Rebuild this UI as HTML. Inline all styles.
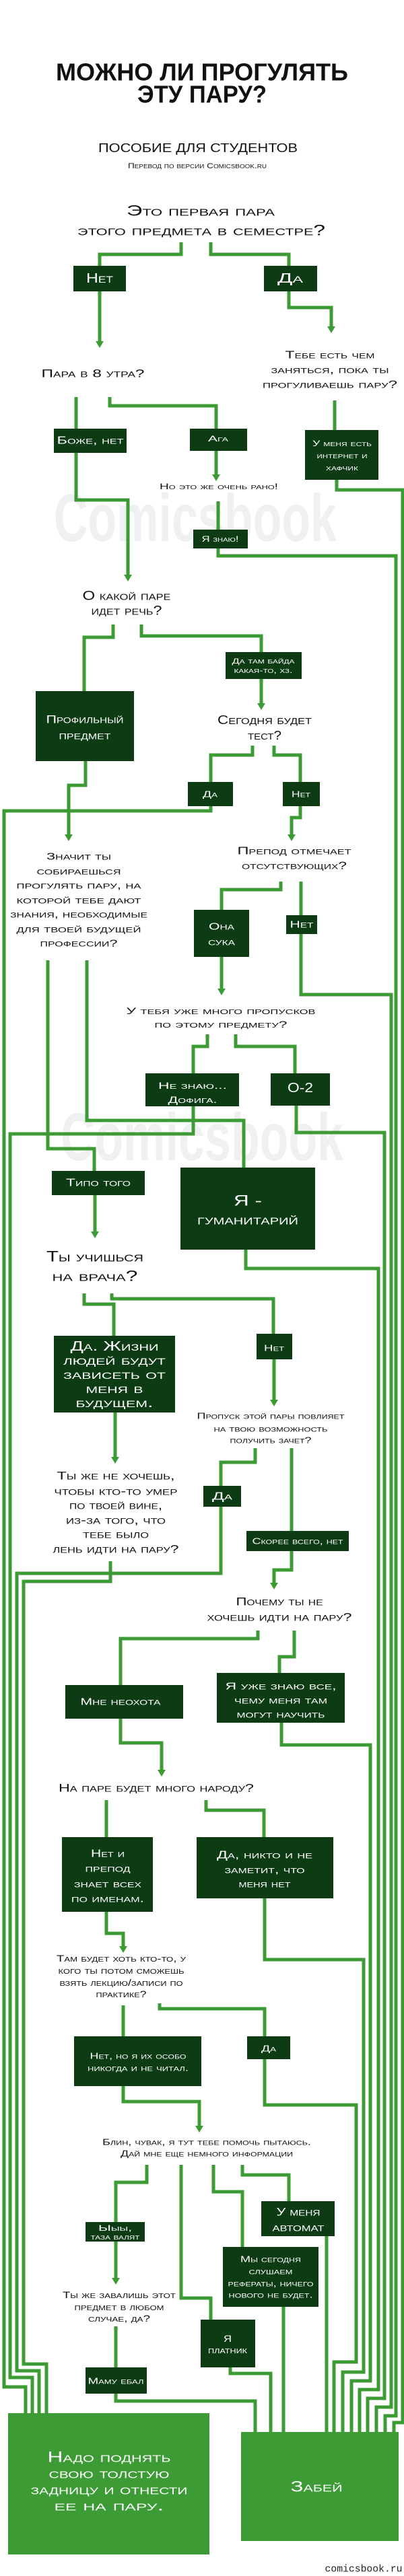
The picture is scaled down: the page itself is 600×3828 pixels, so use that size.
<!DOCTYPE html>
<html><head><meta charset="utf-8"><style>
html,body{margin:0;padding:0;background:#fff;}
svg{display:block;}
text{font-family:"Liberation Sans",sans-serif;font-variant:small-caps;text-anchor:middle;dominant-baseline:central;fill:#111;}
.w{fill:#fff;}
.ln{fill:none;stroke:#3d9b35;stroke-width:5;stroke-linejoin:miter;}
.b{fill:#0c3b14;}
.g{fill:#3d9b35;}
.a{fill:#3d9b35;}
.wm{fill:#f0f0f0;font-variant:normal;font-weight:bold;}
</style></head><body>
<svg width="600" height="3828" viewBox="0 0 600 3828" xmlns="http://www.w3.org/2000/svg">
<!-- watermarks -->
<text class="wm" x="290" y="770" font-size="100" textLength="420" lengthAdjust="spacingAndGlyphs">Comicsbook</text>
<text class="wm" x="300" y="1690" font-size="100" textLength="420" lengthAdjust="spacingAndGlyphs">Comicsbook</text>

<!-- title -->
<text x="300" y="107" font-size="36" font-weight="bold" textLength="434" lengthAdjust="spacingAndGlyphs">МОЖНО ЛИ ПРОГУЛЯТЬ</text>
<text x="300" y="140" font-size="36" font-weight="bold" textLength="192" lengthAdjust="spacingAndGlyphs">ЭТУ ПАРУ?</text>
<text x="294" y="220" font-size="18" textLength="296" lengthAdjust="spacingAndGlyphs">ПОСОБИЕ ДЛЯ СТУДЕНТОВ</text>
<text x="293" y="247" font-size="11" textLength="206" lengthAdjust="spacingAndGlyphs">Перевод по версии Comicsbook.ru</text>
<text x="298" y="313" font-size="22" textLength="220" lengthAdjust="spacingAndGlyphs">Это первая пара</text>
<text x="299" y="342" font-size="22" textLength="368" lengthAdjust="spacingAndGlyphs">этого предмета в семестре?</text>

<!-- lines -->
<g class="ln">
<polyline points="269,360 269,378 148,378 148,395"/>
<polyline points="313,360 313,378 429,378 429,395"/>
<polyline points="148,433 148,510"/>
<polyline points="429,433 429,457 492,457 492,488"/>
<polyline points="113,590 113,637"/>
<polyline points="163,590 163,603 321,603 321,637"/>
<polyline points="497,595 497,639"/>
<polyline points="113,673 113,743 190,743 190,857"/>
<polyline points="321,670 321,708"/>
<polyline points="324,745 324,787"/>
<polyline points="500,713 500,728 598,728 598,3600 585,3600 585,3614"/>
<polyline points="324,815 324,826 588,826 588,3590 572,3590 572,3614"/>
<polyline points="168,928 168,947 125,947 125,1027"/>
<polyline points="210,928 210,945 388,945 388,969"/>
<polyline points="388,1009 388,1048"/>
<polyline points="127,1131 127,1167 102,1167 102,1243"/>
<polyline points="375,1108 375,1122 313,1122 313,1162"/>
<polyline points="407,1108 407,1122 446,1122 446,1162"/>
<polyline points="313,1198 313,1205 6,1205 6,3547 38,3547 38,3586"/>
<polyline points="446,1198 446,1215 433,1215 433,1243"/>
<polyline points="417,1310 417,1322 329,1322 329,1352"/>
<polyline points="447,1310 447,1478 581,1478 581,3577 559,3577 559,3614"/>
<polyline points="329,1422 329,1472"/>
<polyline points="308,1537 308,1555 287,1555 287,1595"/>
<polyline points="350,1537 350,1555 438,1555 438,1595"/>
<polyline points="71,1427 71,1707 140,1707 140,1740"/>
<polyline points="129,1427 129,1665 362,1665 362,1735"/>
<polyline points="287,1644 287,1685 15,1685 15,3533 48,3533 48,3586"/>
<polyline points="440,1643 440,1683 571,1683 571,3564 546,3564 546,3614"/>
<polyline points="365,1857 365,1885 562,1885 562,3551 534,3551 534,3614"/>
<polyline points="141,1776 141,1833"/>
<polyline points="125,1922 125,1938 169,1938 169,1985"/>
<polyline points="166,1922 166,1930 406,1930 406,1982"/>
<polyline points="407,2020 407,2083"/>
<polyline points="171,2099 171,2168"/>
<polyline points="379,2152 379,2173 328,2173 328,2338 25,2338 25,3523 58,3523 58,3586"/>
<polyline points="433,2152 433,2333 407,2333 407,2355"/>
<polyline points="164,2320 164,2350 35,2350 35,3513 69,3513 69,3586"/>
<polyline points="383,2423 383,2435 179,2435 179,2504"/>
<polyline points="437,2423 437,2462 415,2462 415,2486"/>
<polyline points="179,2554 179,2590 240,2590 240,2633"/>
<polyline points="418,2560 418,2593 550,2593 550,3538 522,3538 522,3614"/>
<polyline points="158,2675 158,2730"/>
<polyline points="306,2675 306,2690 392,2690 392,2730"/>
<polyline points="158,2841 158,2873 183,2873 183,2895"/>
<polyline points="393,2821 393,2912 540,2912 540,3525 509,3525 509,3614"/>
<polyline points="183,2980 183,3026"/>
<polyline points="237,2977 237,2985 393,2985 393,3026"/>
<polyline points="393,3060 393,3128 529,3128 529,3510 496,3510 496,3614"/>
<polyline points="183,3100 183,3123 296,3123 296,3162"/>
<polyline points="218,3217 218,3243 172,3243 172,3388"/>
<polyline points="269,3217 269,3415 313,3415 313,3447"/>
<polyline points="317,3217 317,3257 360,3257 360,3339"/>
<polyline points="360,3217 360,3232 429,3232 429,3271"/>
<polyline points="172,3457 172,3518"/>
<polyline points="172,3557 172,3568 379,3568 379,3614"/>
<polyline points="342,3518 342,3527 402,3527 402,3614"/>
<polyline points="421,3428 421,3614"/>
<polyline points="485,3323 485,3614"/>
</g>

<!-- arrowheads -->
<g class="a">
<polygon points="142,507 154,507 148,517"/>
<polygon points="486,485 498,485 492,495"/>
<polygon points="184,854 196,854 190,864"/>
<polygon points="315,705 327,705 321,715"/>
<polygon points="382,1045 394,1045 388,1055"/>
<polygon points="96,1240 108,1240 102,1250"/>
<polygon points="427,1240 439,1240 433,1250"/>
<polygon points="323,1469 335,1469 329,1479"/>
<polygon points="135,1830 147,1830 141,1840"/>
<polygon points="401,2080 413,2080 407,2090"/>
<polygon points="165,2165 177,2165 171,2175"/>
<polygon points="401,2352 413,2352 407,2362"/>
<polygon points="234,2630 246,2630 240,2640"/>
<polygon points="177,2892 189,2892 183,2902"/>
<polygon points="290,3159 302,3159 296,3169"/>
<polygon points="166,3385 178,3385 172,3395"/>
</g>

<!-- boxes -->
<rect class="b" x="109" y="395" width="78" height="38"/>
<text class="w" x="148" y="414" font-size="20" textLength="40" lengthAdjust="spacingAndGlyphs">Нет</text>
<rect class="b" x="392" y="395" width="79" height="38"/>
<text class="w" x="431" y="414" font-size="20" textLength="38" lengthAdjust="spacingAndGlyphs">Да</text>

<text x="138" y="555" font-size="17" textLength="153" lengthAdjust="spacingAndGlyphs">Пара в 8 утра?</text>
<text x="490" y="528" font-size="16" textLength="133" lengthAdjust="spacingAndGlyphs">Тебе есть чем</text>
<text x="490" y="550" font-size="16" textLength="175" lengthAdjust="spacingAndGlyphs">заняться, пока ты</text>
<text x="490" y="572" font-size="16" textLength="200" lengthAdjust="spacingAndGlyphs">прогуливаешь пару?</text>

<rect class="b" x="80" y="637" width="108" height="36"/>
<text class="w" x="134" y="655" font-size="16" textLength="99" lengthAdjust="spacingAndGlyphs">Боже, нет</text>
<rect class="b" x="282" y="637" width="85" height="33"/>
<text class="w" x="324" y="652" font-size="12" textLength="30" lengthAdjust="spacingAndGlyphs">Ага</text>
<text x="325" y="723" font-size="12" textLength="176" lengthAdjust="spacingAndGlyphs">Но это же очень рано!</text>
<rect class="b" x="453" y="639" width="109" height="74"/>
<text class="w" x="508" y="659" font-size="12" textLength="88" lengthAdjust="spacingAndGlyphs">У меня есть</text>
<text class="w" x="508" y="677" font-size="12" textLength="75" lengthAdjust="spacingAndGlyphs">интернет и</text>
<text class="w" x="508" y="695" font-size="12" textLength="48" lengthAdjust="spacingAndGlyphs">хафчик</text>
<rect class="b" x="287" y="787" width="81" height="28"/>
<text class="w" x="327" y="801" font-size="12" textLength="55" lengthAdjust="spacingAndGlyphs">Я знаю!</text>

<text x="188" y="886" font-size="19" textLength="131" lengthAdjust="spacingAndGlyphs">О какой паре</text>
<text x="188" y="908" font-size="19" textLength="105" lengthAdjust="spacingAndGlyphs">идет речь?</text>
<rect class="b" x="335" y="969" width="113" height="40"/>
<text class="w" x="391" y="983" font-size="11" textLength="93" lengthAdjust="spacingAndGlyphs">Да там байда</text>
<text class="w" x="391" y="997" font-size="11" textLength="87" lengthAdjust="spacingAndGlyphs">какая-то, хз.</text>
<text x="393" y="1070" font-size="18" textLength="140" lengthAdjust="spacingAndGlyphs">Сегодня будет</text>
<text x="393" y="1093" font-size="18" textLength="50" lengthAdjust="spacingAndGlyphs">тест?</text>
<rect class="b" x="53" y="1027" width="146" height="104"/>
<text class="w" x="126" y="1069" font-size="17" textLength="115" lengthAdjust="spacingAndGlyphs">Профильный</text>
<text class="w" x="126" y="1093" font-size="17" textLength="77" lengthAdjust="spacingAndGlyphs">предмет</text>
<rect class="b" x="279" y="1162" width="67" height="36"/>
<text class="w" x="312" y="1180" font-size="13" textLength="22" lengthAdjust="spacingAndGlyphs">Да</text>
<rect class="b" x="420" y="1162" width="55" height="36"/>
<text class="w" x="447" y="1180" font-size="13" textLength="28" lengthAdjust="spacingAndGlyphs">Нет</text>

<text x="117" y="1273" font-size="15" textLength="96" lengthAdjust="spacingAndGlyphs">Значит ты</text>
<text x="117" y="1295" font-size="15" textLength="125" lengthAdjust="spacingAndGlyphs">собираешься</text>
<text x="117" y="1316" font-size="15" textLength="185" lengthAdjust="spacingAndGlyphs">прогулять пару, на</text>
<text x="117" y="1338" font-size="15" textLength="185" lengthAdjust="spacingAndGlyphs">которой тебе дают</text>
<text x="117" y="1359" font-size="15" textLength="204" lengthAdjust="spacingAndGlyphs">знания, необходимые</text>
<text x="117" y="1381" font-size="15" textLength="185" lengthAdjust="spacingAndGlyphs">для твоей будущей</text>
<text x="117" y="1402" font-size="15" textLength="115" lengthAdjust="spacingAndGlyphs">профессии?</text>

<text x="437" y="1265" font-size="16" textLength="169" lengthAdjust="spacingAndGlyphs">Препод отмечает</text>
<text x="437" y="1287" font-size="16" textLength="156" lengthAdjust="spacingAndGlyphs">отсутствующих?</text>
<rect class="b" x="288" y="1352" width="82" height="70"/>
<text class="w" x="329" y="1377" font-size="15" textLength="38" lengthAdjust="spacingAndGlyphs">Она</text>
<text class="w" x="329" y="1400" font-size="15" textLength="40" lengthAdjust="spacingAndGlyphs">сука</text>
<rect class="b" x="425" y="1360" width="46" height="28"/>
<text class="w" x="448" y="1374" font-size="15" textLength="35" lengthAdjust="spacingAndGlyphs">Нет</text>

<text x="328" y="1502" font-size="14" textLength="281" lengthAdjust="spacingAndGlyphs">У тебя уже много пропусков</text>
<text x="328" y="1522" font-size="14" textLength="197" lengthAdjust="spacingAndGlyphs">по этому предмету?</text>
<rect class="b" x="216" y="1595" width="139" height="49"/>
<text class="w" x="286" y="1613" font-size="14" textLength="102" lengthAdjust="spacingAndGlyphs">Не знаю...</text>
<text class="w" x="286" y="1634" font-size="14" textLength="73" lengthAdjust="spacingAndGlyphs">Дофига.</text>
<rect class="b" x="402" y="1595" width="88" height="48"/>
<text class="w" x="446" y="1617" font-size="20" textLength="38" lengthAdjust="spacingAndGlyphs">О-2</text>

<rect class="b" x="77" y="1740" width="138" height="36"/>
<text class="w" x="146" y="1758" font-size="16" textLength="96" lengthAdjust="spacingAndGlyphs">Типо того</text>
<rect class="b" x="268" y="1735" width="200" height="122"/>
<text class="w" x="368" y="1784" font-size="22" textLength="42" lengthAdjust="spacingAndGlyphs">Я -</text>
<text class="w" x="368" y="1812" font-size="22" textLength="150" lengthAdjust="spacingAndGlyphs">гуманитарий</text>

<text x="141" y="1867" font-size="22" textLength="144" lengthAdjust="spacingAndGlyphs">Ты учишься</text>
<text x="141" y="1896" font-size="22" textLength="127" lengthAdjust="spacingAndGlyphs">на врача?</text>

<rect class="b" x="80" y="1985" width="180" height="114"/>
<text class="w" x="170" y="2001" font-size="20" textLength="131" lengthAdjust="spacingAndGlyphs">Да. Жизни</text>
<text class="w" x="170" y="2022" font-size="20" textLength="152" lengthAdjust="spacingAndGlyphs">людей будут</text>
<text class="w" x="170" y="2043" font-size="20" textLength="152" lengthAdjust="spacingAndGlyphs">зависеть от</text>
<text class="w" x="170" y="2064" font-size="20" textLength="85" lengthAdjust="spacingAndGlyphs">меня в</text>
<text class="w" x="170" y="2085" font-size="20" textLength="115" lengthAdjust="spacingAndGlyphs">будущем.</text>
<rect class="b" x="381" y="1982" width="53" height="38"/>
<text class="w" x="407" y="2003" font-size="13" textLength="30" lengthAdjust="spacingAndGlyphs">Нет</text>

<text x="402" y="2104" font-size="13" textLength="219" lengthAdjust="spacingAndGlyphs">Пропуск этой пары повлияет</text>
<text x="402" y="2123" font-size="13" textLength="169" lengthAdjust="spacingAndGlyphs">на твою возможность</text>
<text x="402" y="2140" font-size="13" textLength="121" lengthAdjust="spacingAndGlyphs">получить зачет?</text>
<rect class="b" x="302" y="2208" width="56" height="31"/>
<text class="w" x="330" y="2224" font-size="16" textLength="30" lengthAdjust="spacingAndGlyphs">Да</text>
<rect class="b" x="366" y="2275" width="152" height="30"/>
<text class="w" x="442" y="2290" font-size="13" textLength="135" lengthAdjust="spacingAndGlyphs">Скорее всего, нет</text>

<text x="172" y="2193" font-size="17" textLength="175" lengthAdjust="spacingAndGlyphs">Ты же не хочешь,</text>
<text x="172" y="2216" font-size="17" textLength="183" lengthAdjust="spacingAndGlyphs">чтобы кто-то умер</text>
<text x="172" y="2237" font-size="17" textLength="138" lengthAdjust="spacingAndGlyphs">по твоей вине,</text>
<text x="172" y="2259" font-size="17" textLength="148" lengthAdjust="spacingAndGlyphs">из-за того, что</text>
<text x="172" y="2280" font-size="17" textLength="98" lengthAdjust="spacingAndGlyphs">тебе было</text>
<text x="172" y="2302" font-size="17" textLength="187" lengthAdjust="spacingAndGlyphs">лень идти на пару?</text>

<text x="415" y="2380" font-size="17" textLength="129" lengthAdjust="spacingAndGlyphs">Почему ты не</text>
<text x="415" y="2403" font-size="17" textLength="215" lengthAdjust="spacingAndGlyphs">хочешь идти на пару?</text>

<rect class="b" x="97" y="2504" width="175" height="50"/>
<text class="w" x="179" y="2529" font-size="15" textLength="119" lengthAdjust="spacingAndGlyphs">Мне неохота</text>
<rect class="b" x="322" y="2486" width="190" height="74"/>
<text class="w" x="417" y="2506" font-size="15" textLength="165" lengthAdjust="spacingAndGlyphs">Я уже знаю все,</text>
<text class="w" x="417" y="2527" font-size="15" textLength="138" lengthAdjust="spacingAndGlyphs">чему меня там</text>
<text class="w" x="417" y="2548" font-size="15" textLength="131" lengthAdjust="spacingAndGlyphs">могут научить</text>

<text x="232" y="2657" font-size="17" textLength="290" lengthAdjust="spacingAndGlyphs">На паре будет много народу?</text>
<rect class="b" x="92" y="2730" width="135" height="111"/>
<text class="w" x="160" y="2755" font-size="16" textLength="50" lengthAdjust="spacingAndGlyphs">Нет и</text>
<text class="w" x="160" y="2777" font-size="16" textLength="67" lengthAdjust="spacingAndGlyphs">препод</text>
<text class="w" x="160" y="2800" font-size="16" textLength="100" lengthAdjust="spacingAndGlyphs">знает всех</text>
<text class="w" x="160" y="2822" font-size="16" textLength="108" lengthAdjust="spacingAndGlyphs">по именам.</text>
<rect class="b" x="292" y="2730" width="203" height="91"/>
<text class="w" x="393" y="2757" font-size="16" textLength="142" lengthAdjust="spacingAndGlyphs">Да, никто и не</text>
<text class="w" x="393" y="2779" font-size="16" textLength="119" lengthAdjust="spacingAndGlyphs">заметит, что</text>
<text class="w" x="393" y="2800" font-size="16" textLength="77" lengthAdjust="spacingAndGlyphs">меня нет</text>

<text x="180" y="2910" font-size="14" textLength="192" lengthAdjust="spacingAndGlyphs">Там будет хоть кто-то, у</text>
<text x="180" y="2928" font-size="14" textLength="187" lengthAdjust="spacingAndGlyphs">кого ты потом сможешь</text>
<text x="180" y="2946" font-size="14" textLength="183" lengthAdjust="spacingAndGlyphs">взять лекцию/записи по</text>
<text x="180" y="2963" font-size="14" textLength="75" lengthAdjust="spacingAndGlyphs">практике?</text>
<rect class="b" x="110" y="3026" width="189" height="74"/>
<text class="w" x="205" y="3055" font-size="13" textLength="143" lengthAdjust="spacingAndGlyphs">Нет, но я их особо</text>
<text class="w" x="205" y="3073" font-size="13" textLength="150" lengthAdjust="spacingAndGlyphs">никогда и не читал.</text>
<rect class="b" x="367" y="3026" width="64" height="34"/>
<text class="w" x="399" y="3044" font-size="13" textLength="22" lengthAdjust="spacingAndGlyphs">Да</text>

<text x="307" y="3183" font-size="13" textLength="310" lengthAdjust="spacingAndGlyphs">Блин, чувак, я тут тебе помочь пытаюсь.</text>
<text x="307" y="3200" font-size="13" textLength="256" lengthAdjust="spacingAndGlyphs">Дай мне еще немного информации</text>

<rect class="b" x="127" y="3302" width="88" height="29"/>
<text class="w" x="171" y="3311" font-size="12" textLength="50" lengthAdjust="spacingAndGlyphs">Ыыы,</text>
<text class="w" x="171" y="3325" font-size="11" textLength="73" lengthAdjust="spacingAndGlyphs">таза валят</text>
<rect class="b" x="388" y="3271" width="109" height="52"/>
<text class="w" x="443" y="3287" font-size="17" textLength="65" lengthAdjust="spacingAndGlyphs">У меня</text>
<text class="w" x="443" y="3310" font-size="17" textLength="77" lengthAdjust="spacingAndGlyphs">автомат</text>
<rect class="b" x="331" y="3339" width="142" height="89"/>
<text class="w" x="402" y="3357" font-size="13" textLength="90" lengthAdjust="spacingAndGlyphs">Мы сегодня</text>
<text class="w" x="402" y="3375" font-size="13" textLength="65" lengthAdjust="spacingAndGlyphs">слушаем</text>
<text class="w" x="402" y="3393" font-size="13" textLength="127" lengthAdjust="spacingAndGlyphs">рефераты, ничего</text>
<text class="w" x="402" y="3410" font-size="13" textLength="125" lengthAdjust="spacingAndGlyphs">нового не будет.</text>

<text x="177" y="3410" font-size="14" textLength="168" lengthAdjust="spacingAndGlyphs">Ты же завалишь этот</text>
<text x="177" y="3428" font-size="14" textLength="133" lengthAdjust="spacingAndGlyphs">предмет в любом</text>
<text x="177" y="3445" font-size="14" textLength="92" lengthAdjust="spacingAndGlyphs">случае, да?</text>
<rect class="b" x="298" y="3447" width="81" height="71"/>
<text class="w" x="338" y="3475" font-size="14" textLength="12" lengthAdjust="spacingAndGlyphs">Я</text>
<text class="w" x="338" y="3492" font-size="14" textLength="58" lengthAdjust="spacingAndGlyphs">платник</text>
<rect class="b" x="127" y="3518" width="91" height="39"/>
<text class="w" x="172" y="3538" font-size="13" textLength="83" lengthAdjust="spacingAndGlyphs">Маму ебал</text>

<rect class="g" x="12" y="3586" width="299" height="210"/>
<text class="w" x="162" y="3651" font-size="22" textLength="183" lengthAdjust="spacingAndGlyphs">Надо поднять</text>
<text class="w" x="162" y="3675" font-size="22" textLength="179" lengthAdjust="spacingAndGlyphs">свою толстую</text>
<text class="w" x="162" y="3699" font-size="22" textLength="233" lengthAdjust="spacingAndGlyphs">задницу и отнести</text>
<text class="w" x="162" y="3723" font-size="22" textLength="163" lengthAdjust="spacingAndGlyphs">ее на пару.</text>
<rect class="g" x="358" y="3614" width="234" height="162"/>
<text class="w" x="470" y="3695" font-size="22" textLength="77" lengthAdjust="spacingAndGlyphs">Забей</text>

<text x="540" y="3818" font-size="15" textLength="115" lengthAdjust="spacingAndGlyphs" style="font-family:'Liberation Mono',monospace;font-variant:normal;fill:#222;">comicsbook.ru</text>
</svg>
</body></html>
